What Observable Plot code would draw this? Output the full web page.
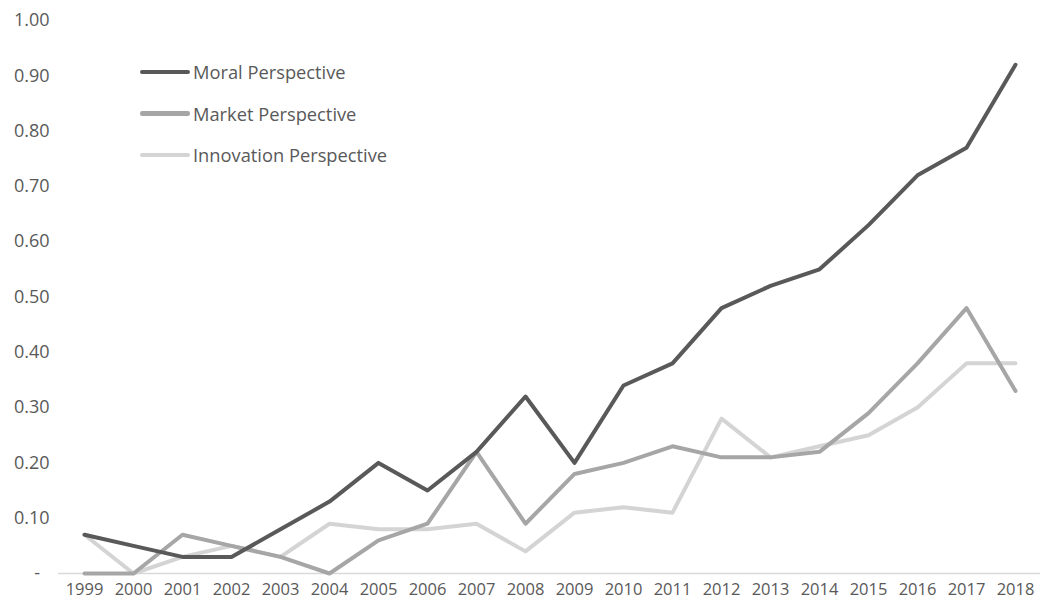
<!DOCTYPE html>
<html>
<head>
<meta charset="utf-8">
<script src="https://cdn.jsdelivr.net/npm/d3@7"></script>
<script src="https://cdn.jsdelivr.net/npm/@observablehq/plot@0.6"></script>
<style>
  body { margin: 0; background: #fff; }
  #wrap { position: relative; width: 1040px; height: 605px; font-family: "Open Sans", sans-serif; }
  #legend { position: absolute; left: 140px; top: 51px; }
  .item { display: flex; align-items: center; height: 41.5px; font-size: 18.3px; color: #595959; }
  .swatch { width: 50px; height: 4.5px; border-radius: 2.25px; margin-right: 3px; }
</style>
</head>
<body>
<div id="wrap"><div id="legend"></div></div>
<script>
const years = [1999,2000,2001,2002,2003,2004,2005,2006,2007,2008,2009,2010,2011,2012,2013,2014,2015,2016,2017,2018];
const seriesNames = ["Moral Perspective", "Market Perspective", "Innovation Perspective"];
const seriesColors = ["#595959", "#a6a6a6", "#d4d4d4"];
const moral = [0.07,0.05,0.03,0.03,0.08,0.13,0.20,0.15,0.22,0.32,0.20,0.34,0.38,0.48,0.52,0.55,0.63,0.72,0.77,0.92];
const market = [0.00,0.00,0.07,0.05,0.03,0.00,0.06,0.09,0.22,0.09,0.18,0.20,0.23,0.21,0.21,0.22,0.29,0.38,0.48,0.33];
const innovation = [0.07,0.00,0.03,0.05,0.03,0.09,0.08,0.08,0.09,0.04,0.11,0.12,0.11,0.28,0.21,0.23,0.25,0.30,0.38,0.38];
const yTicks = [0,0.1,0.2,0.3,0.4,0.5,0.6,0.7,0.8,0.9,1.0];

const allSeries = [moral, market, innovation];
const data = [];
// draw innovation first, then market, then moral on top
[2,1,0].forEach(si => years.forEach((yr, i) => data.push({year: String(yr), value: allSeries[si][i], series: seriesNames[si]})));

const chart = Plot.plot({
  width: 1040,
  height: 605,
  marginLeft: 58,
  marginRight: 0,
  marginTop: 20,
  marginBottom: 32,
  style: {fontFamily: '"Open Sans", sans-serif', fontSize: "16.5px", color: "#595959", background: "#fff"},
  x: {type: "point", domain: years.map(String), padding: 0.5, label: null},
  y: {domain: [0, 1], label: null},
  color: {domain: seriesNames, range: seriesColors},
  marks: [
    Plot.axisX({tickSize: 0, tickPadding: 10, label: null, fontSize: 16.5}),
    Plot.axisY({ticks: yTicks, tickFormat: d => d === 0 ? "-\u00a0\u00a0" : d3.format(".2f")(d), tickSize: 0, tickPadding: 9, label: null, fontSize: 18}),
    Plot.ruleY([0], {stroke: "#d9d9d9", strokeWidth: 1.3}),
    Plot.lineY(data, {x: "year", y: "value", z: "series", stroke: "series", strokeWidth: 4, strokeLinecap: "round", strokeLinejoin: "round"})
  ]
});
const wrap = document.getElementById("wrap");
wrap.insertBefore(chart, wrap.firstChild);

const legend = document.getElementById("legend");
seriesNames.forEach((name, i) => {
  const it = document.createElement("div");
  it.className = "item";
  it.innerHTML = `<span class="swatch" style="background:${seriesColors[i]}"></span><span>${name}</span>`;
  legend.appendChild(it);
});
</script>
</body>
</html>
